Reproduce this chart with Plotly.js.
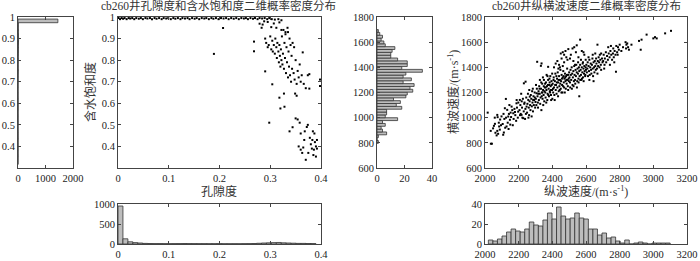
<!DOCTYPE html>
<html><head><meta charset="utf-8">
<script src="https://cdn.plot.ly/plotly-3.0.1.min.js"></script>
<style>html,body{margin:0;padding:0;background:#fff}#chart{width:700px;height:261px}</style>
</head><body><div id="chart"></div>
<script>
// ---------- data ----------
const title1 = 'cb260井孔隙度和含水饱和度二维概率密度分布';
const title2 = 'cb260井纵横波速度二维概率密度分布';
const porLabel = '孔隙度';
const satLabel = '含水饱和度';
const vpLabel = '纵波速度/(m·s<sup>-1</sup>)';
const vsLabel = '横波速度/(m·s<sup>-1</sup>)';

// porosity / water saturation points [porosity, saturation]
const porSatPoints = [
[0.001,0.995],[0.004,0.99],[0.007,0.995],[0.010,0.992],[0.013,0.995],[0.017,0.99],[0.021,0.995],[0.024,0.993],[0.028,0.995],[0.032,0.99],
[0.036,0.995],[0.041,0.992],[0.045,0.995],[0.049,0.99],[0.054,0.995],[0.058,0.993],[0.063,0.995],[0.067,0.99],[0.072,0.995],[0.076,0.992],
[0.081,0.995],[0.086,0.99],[0.090,0.995],[0.095,0.993],[0.099,0.995],[0.104,0.99],[0.109,0.995],[0.113,0.992],[0.118,0.995],[0.123,0.99],
[0.127,0.995],[0.132,0.993],[0.137,0.995],[0.141,0.99],[0.146,0.995],[0.151,0.992],[0.155,0.995],[0.160,0.99],[0.165,0.995],[0.170,0.993],
[0.174,0.995],[0.179,0.99],[0.184,0.995],[0.188,0.992],[0.193,0.995],[0.198,0.99],[0.203,0.995],[0.208,0.993],[0.213,0.995],[0.218,0.99],
[0.223,0.995],[0.228,0.992],[0.233,0.995],[0.238,0.99],[0.243,0.995],[0.248,0.993],[0.252,0.995],[0.256,0.99],[0.261,0.995],[0.266,0.992],
[0.270,0.995],[0.275,0.99],[0.279,0.995],[0.284,0.993],[0.289,0.995],[0.294,0.99],[0.298,0.995],[0.303,0.99],[0.309,0.988],[0.316,0.99],[0.322,0.985],
[0.189,0.829],[0.207,0.949],
[0.268,0.886],[0.268,0.841],[0.279,0.969],[0.285,0.965],[0.288,0.98],[0.283,0.95],[0.295,0.977],[0.302,0.953],[0.307,0.97],[0.312,0.95],[0.318,0.975],[0.322,0.94],[0.330,0.92],[0.335,0.93],
[0.290,0.90],[0.292,0.88],[0.295,0.86],[0.297,0.87],[0.300,0.91],[0.302,0.85],[0.304,0.89],[0.305,0.84],[0.307,0.87],[0.309,0.83],
[0.310,0.90],[0.312,0.86],[0.313,0.81],[0.314,0.88],[0.316,0.84],[0.317,0.79],[0.318,0.87],[0.319,0.82],[0.320,0.77],[0.321,0.85],
[0.322,0.80],[0.323,0.91],[0.324,0.78],[0.325,0.83],[0.326,0.94],[0.327,0.76],[0.328,0.88],[0.329,0.81],[0.330,0.93],[0.331,0.74],
[0.332,0.86],[0.333,0.79],[0.334,0.95],[0.335,0.72],[0.336,0.84],[0.337,0.77],[0.338,0.90],[0.339,0.73],[0.340,0.87],[0.341,0.70],
[0.342,0.82],[0.343,0.76],[0.344,0.88],[0.346,0.74],[0.347,0.86],[0.348,0.71],[0.350,0.80],[0.352,0.69],[0.354,0.75],[0.356,0.72],
[0.358,0.78],[0.360,0.70],[0.362,0.73],[0.364,0.836],[0.366,0.69],
[0.290,0.748],[0.304,0.688],[0.298,0.51],[0.318,0.626],[0.327,0.645],[0.320,0.576],[0.328,0.584],[0.349,0.645],[0.352,0.635],[0.354,0.525],[0.344,0.489],[0.338,0.47],
[0.374,0.73],[0.377,0.735],[0.377,0.668],[0.398,0.71],[0.398,0.68],[0.370,0.67],
[0.356,0.40],[0.360,0.385],[0.363,0.37],[0.367,0.43],[0.372,0.49],[0.374,0.50],[0.384,0.47],[0.387,0.46],[0.378,0.44],[0.383,0.43],
[0.390,0.40],[0.386,0.385],[0.390,0.353],[0.370,0.338],[0.365,0.395],[0.380,0.41],[0.388,0.42],[0.392,0.43],[0.375,0.37],[0.382,0.39],
[0.360,0.46],[0.368,0.47],[0.392,0.39],[0.385,0.36],[0.358,0.51],[0.350,0.53]
];

// P-wave / S-wave velocity points [Vp, Vs]
const vpVsPoints = [
[2016,1040],[2035,793],[2041,793],[2034,895],[2053,935],[2059,951],[2073,1022],[2075,1004],[2073,895],[2069,859],
[2048,915],[2062,880],[2082,960],[2088,905],[2095,940],[2090,985],[2078,872],[2098,1010],[2058,1000],[2084,930],
[2108,864],[2112,882],[2124,1149],[2128,930],[2138,1009],[2148,983],[2132,1062],[2158,1088],[2168,1035],[2187,1114],
[2197,1048],[2105,950],[2115,990],[2120,920],[2135,960],[2142,1030],[2150,945],[2155,1005],[2162,1060],[2170,990],
[2175,1070],[2180,1020],[2185,975],[2190,1080],[2195,1000],[2118,1075],[2145,1100],[2165,940],[2178,1045],[2198,1120],
[2125,1000],[2140,910],[2152,1040],[2188,1140],[2110,1030],
[2207,1141],[2227,996],[2217,1022],[2241,1286],[2231,1273],[2247,1088],[2257,1141],[2266,1167],[2286,1141],[2205,1060],
[2210,1100],[2212,1030],[2220,1080],[2225,1150],[2230,1050],[2235,1120],[2238,990],[2240,1070],[2245,1160],[2250,1040],
[2252,1110],[2255,1190],[2260,1080],[2262,1020],[2265,1130],[2268,1100],[2270,1060],[2272,1180],[2275,1150],[2278,1090],
[2280,1210],[2282,1120],[2285,1050],[2288,1170],[2290,1100],[2292,1140],[2295,1200],[2298,1080],[2215,1190],[2222,1000],
[2233,1110],[2243,1030],[2258,1000],[2263,1220],[2277,1010],[2284,1230],[2296,1160],[2300,1125],[2208,1020],[2218,1130],
[2306,1194],[2310,1444],[2336,1431],[2332,1412],[2375,1404],[2302,1150],[2305,1100],[2308,1230],[2312,1170],[2315,1080],
[2318,1210],[2320,1140],[2322,1250],[2325,1190],[2328,1110],[2330,1160],[2333,1230],[2335,1060],[2338,1200],[2340,1270],
[2342,1150],[2345,1220],[2348,1180],[2350,1300],[2352,1130],[2355,1240],[2358,1200],[2360,1160],[2362,1280],[2365,1220],
[2368,1250],[2370,1140],[2372,1190],[2375,1300],[2378,1230],[2380,1170],[2382,1260],[2385,1210],[2388,1330],[2390,1250],
[2392,1180],[2395,1290],[2398,1220],[2400,1150],[2303,1260],[2314,1120],[2326,1300],[2337,1170],[2346,1100],[2357,1270],
[2364,1120],[2374,1260],[2383,1310],[2393,1140],[2399,1350],[2344,1320],[2366,1340],[2387,1200],[2353,1210],[2376,1180],
[2316,1190],[2324,1230],[2341,1200],[2361,1240],[2384,1280],[2396,1260],[2371,1330],[2349,1250],[2334,1280],[2391,1220],
[2402,1270],[2405,1200],[2408,1320],[2410,1240],[2412,1180],[2415,1290],[2418,1350],[2420,1220],[2422,1260],[2425,1190],
[2428,1310],[2430,1240],[2432,1360],[2435,1280],[2438,1210],[2440,1330],[2442,1250],[2445,1300],[2448,1380],[2450,1230],
[2452,1290],[2455,1340],[2458,1260],[2460,1200],[2462,1320],[2465,1370],[2468,1280],[2470,1240],[2472,1310],[2475,1350],
[2478,1290],[2480,1230],[2482,1330],[2485,1270],[2488,1390],[2490,1300],[2492,1250],[2495,1340],[2498,1290],[2500,1360],
[2404,1230],[2414,1140],[2424,1330],[2434,1170],[2444,1220],[2454,1200],[2464,1250],[2474,1200],[2484,1300],[2494,1220],
[2407,1300],[2417,1260],[2427,1280],[2437,1300],[2447,1270],[2457,1310],[2467,1330],[2477,1320],[2487,1340],[2497,1310],
[2450,1510],[2462,1520],[2470,1500],[2478,1530],[2490,1460],[2455,1470],[2470,1440],[2483,1480],[2495,1545],[2440,1420],
[2430,1450],[2410,1400],[2420,1430],[2462,1410],[2436,1390],[2445,1400],
[2502,1320],[2505,1280],[2508,1380],[2510,1340],[2512,1300],[2515,1400],[2518,1350],[2520,1260],[2522,1320],[2525,1370],
[2528,1290],[2530,1410],[2532,1340],[2535,1300],[2538,1380],[2540,1330],[2542,1420],[2545,1360],[2548,1290],[2550,1390],
[2552,1350],[2555,1310],[2558,1400],[2560,1370],[2562,1330],[2565,1420],[2568,1380],[2570,1340],[2572,1300],[2575,1400],
[2578,1360],[2580,1430],[2582,1320],[2585,1390],[2588,1350],[2590,1410],[2592,1370],[2595,1330],[2598,1400],[2600,1380],
[2506,1240],[2516,1230],[2526,1250],[2536,1270],[2546,1240],[2556,1280],[2566,1300],[2576,1310],[2586,1290],[2596,1340],
[2560,1170],[2565,1620],[2520,1550],[2530,1560],[2545,1575],[2510,1500],[2540,1520],[2555,1480],[2575,1530],[2585,1520],
[2590,1500],[2505,1470],[2525,1450],[2535,1420],[2553,1440],[2570,1460],[2582,1440],[2598,1460],
[2602,1420],[2605,1360],[2608,1390],[2610,1440],[2612,1330],[2615,1410],[2618,1370],[2620,1460],[2622,1340],[2625,1400],
[2628,1430],[2630,1380],[2632,1350],[2635,1420],[2638,1470],[2640,1390],[2642,1330],[2645,1440],[2648,1400],[2650,1360],
[2652,1450],[2655,1410],[2658,1380],[2660,1470],[2662,1430],[2665,1390],[2668,1350],[2670,1450],[2672,1410],[2675,1480],
[2678,1440],[2680,1400],[2685,1460],[2688,1420],[2690,1380],[2695,1470],[2698,1440],[2668,1580],[2640,1500],[2655,1510],
[2690,1510],[2620,1300],[2615,1480],[2645,1290],[2682,1500],
[2702,1450],[2705,1500],[2710,1420],[2712,1470],[2718,1520],[2720,1440],[2725,1490],[2730,1460],[2735,1510],[2740,1480],
[2742,1420],[2745,1530],[2750,1500],[2755,1460],[2760,1510],[2762,1550],[2765,1480],[2770,1530],[2775,1500],[2778,1365],
[2780,1570],[2785,1520],[2790,1560],[2795,1540],[2800,1580],[2748,1570],[2732,1560],[2708,1390],[2768,1440],[2788,1500],
[2835,1600],[2840,1580],[2845,1590],[2850,1560],[2855,1540],[2838,1550],[2820,1560],[2810,1530],[2915,1610],[2925,1540],
[2930,1620],[2960,1660],[3000,1630],[3010,1640],[3020,1630],[3070,1670],[3105,1690],[2870,1580]
];

// histogram counts (40 bins each)
const porBinStart = 0, porBinWidth = 0.00975;
const porCounts = [950,130,55,35,25,15,12,10,10,8,8,9,10,12,10,9,8,8,7,7,8,6,6,7,6,8,9,12,18,25,30,35,38,30,25,20,15,15,12,10];
const satBinStart = 0.3164, satBinWidth = 0.01685;
const satCounts = [0,2,3,2,4,3,3,5,4,3,2,4,3,3,2,5,4,3,4,3,2,3,4,5,6,8,7,6,8,10,12,14,15,18,20,16,12,10,9,1450];
const vpBinStart = 2020, vpBinWidth = 27;
const vpCounts = [4,3,5,8,12,15,13,12,15,22,19,18,24,31,25,37,28,25,26,31,26,25,15,15,9,11,6,7,3,1,4,0,1,2,1,0,1,1,1,1];
const vsBinStart = 796, vsBinWidth = 22.6;
const vsCounts = [1,0,1,7,4,3,6,4,15,6,7,7,18,14,17,12,21,22,26,24,27,19,25,19,21,33,18,22,22,15,10,10,11,13,6,5,3,4,2,1];

// ---------- figure ----------
const serif = "'Liberation Serif', 'Times New Roman', 'DejaVu Serif', serif";
const textFont = "'Liberation Serif', 'Noto Sans CJK SC', serif";
const centers = (start, w, n) => Array.from({length: n}, (_, i) => start + w * (i + 0.5));
const barStyle = {color: '#bdbdbd', line: {color: '#333', width: 0.8}};
const dotStyle = {color: '#000', size: 2, symbol: 'square', line: {width: 0}};

const traces = [
  {type: 'bar', orientation: 'h', x: satCounts, y: centers(satBinStart, satBinWidth, satCounts.length),
   width: satBinWidth, marker: barStyle, xaxis: 'x', yaxis: 'y', hoverinfo: 'skip'},
  {type: 'scatter', mode: 'markers', x: porSatPoints.map(p => p[0]), y: porSatPoints.map(p => p[1]),
   marker: dotStyle, xaxis: 'x2', yaxis: 'y2', hoverinfo: 'skip'},
  {type: 'bar', x: centers(porBinStart, porBinWidth, porCounts.length), y: porCounts,
   width: porBinWidth, marker: barStyle, xaxis: 'x3', yaxis: 'y3', hoverinfo: 'skip'},
  {type: 'bar', orientation: 'h', x: vsCounts, y: centers(vsBinStart, vsBinWidth, vsCounts.length),
   width: vsBinWidth, marker: barStyle, xaxis: 'x4', yaxis: 'y4', hoverinfo: 'skip'},
  {type: 'scatter', mode: 'markers', x: vpVsPoints.map(p => p[0]), y: vpVsPoints.map(p => p[1]),
   marker: dotStyle, xaxis: 'x5', yaxis: 'y5', hoverinfo: 'skip'},
  {type: 'bar', x: centers(vpBinStart, vpBinWidth, vpCounts.length), y: vpCounts,
   width: vpBinWidth, marker: barStyle, xaxis: 'x6', yaxis: 'y6', hoverinfo: 'skip'}
];

const W = 700, H = 261;
const dx = (a, b) => [a / W, b / W];
const dy = (top, bottom) => [1 - bottom / H, 1 - top / H];
function ax(domain, anchor, range, extra) {
  return Object.assign({
    domain, anchor, range, showline: true, mirror: 'allticks', linecolor: '#444', linewidth: 1,
    ticks: 'inside', ticklen: 3, tickcolor: '#444', tickwidth: 1, showgrid: false, zeroline: false,
    tickfont: {family: serif, size: 10.5, color: '#222'}, fixedrange: true
  }, extra || {});
}
const satTicks = {tickvals: [0.4, 0.5, 0.6, 0.7, 0.8, 0.9, 1], ticktext: ['0.4','0.5','0.6','0.7','0.8','0.9','1']};
const porTicks = {tickvals: [0, 0.1, 0.2, 0.3, 0.4], ticktext: ['0','0.1','0.2','0.3','0.4']};

const layout = {
  width: W, height: H, margin: {l: 0, r: 0, t: 0, b: 0}, showlegend: false,
  paper_bgcolor: '#fff', plot_bgcolor: '#fff', bargap: 0,
  xaxis:  ax(dx(18, 73), 'y', [0, 2000], {dtick: 1000}),
  yaxis:  ax(dy(17, 168), 'x', [0.3, 1], satTicks),
  xaxis2: ax(dx(118, 321), 'y2', [0, 0.4], porTicks),
  yaxis2: ax(dy(17, 168), 'x2', [0.3, 1], satTicks),
  xaxis3: ax(dx(118, 321), 'y3', [0, 0.4], porTicks),
  yaxis3: ax(dy(204, 244), 'x3', [0, 1000], {dtick: 500}),
  xaxis4: ax(dx(377, 432), 'y4', [0, 40], {dtick: 20}),
  yaxis4: ax(dy(17, 168), 'x4', [600, 1800], {dtick: 200}),
  xaxis5: ax(dx(485, 687), 'y5', [2000, 3200], {dtick: 200}),
  yaxis5: ax(dy(17, 168), 'x5', [600, 1800], {dtick: 200}),
  xaxis6: ax(dx(485, 687), 'y6', [2000, 3200], {dtick: 200}),
  yaxis6: ax(dy(204, 244), 'x6', [0, 40], {dtick: 20}),
  annotations: [
    {text: title1, x: 219 / W, y: 1 - 5.5 / H, font: {family: textFont, size: 11.5, color: '#333'}},
    {text: title2, x: 586 / W, y: 1 - 5.5 / H, font: {family: textFont, size: 11.5, color: '#333'}},
    {text: porLabel, x: 219 / W, y: 1 - 191 / H},
    {text: vpLabel, x: 586 / W, y: 1 - 191 / H},
    {text: satLabel, x: 90 / W, y: 1 - 92 / H, textangle: -90},
    {text: vsLabel, x: 453 / W, y: 1 - 92 / H, textangle: -90}
  ].map(a => Object.assign({xref: 'paper', yref: 'paper', showarrow: false, xanchor: 'center', yanchor: 'middle',
    font: {family: textFont, size: 12, color: '#333'}}, a))
};

Plotly.newPlot('chart', traces, layout, {staticPlot: true, displayModeBar: false});
</script>
</body></html>
